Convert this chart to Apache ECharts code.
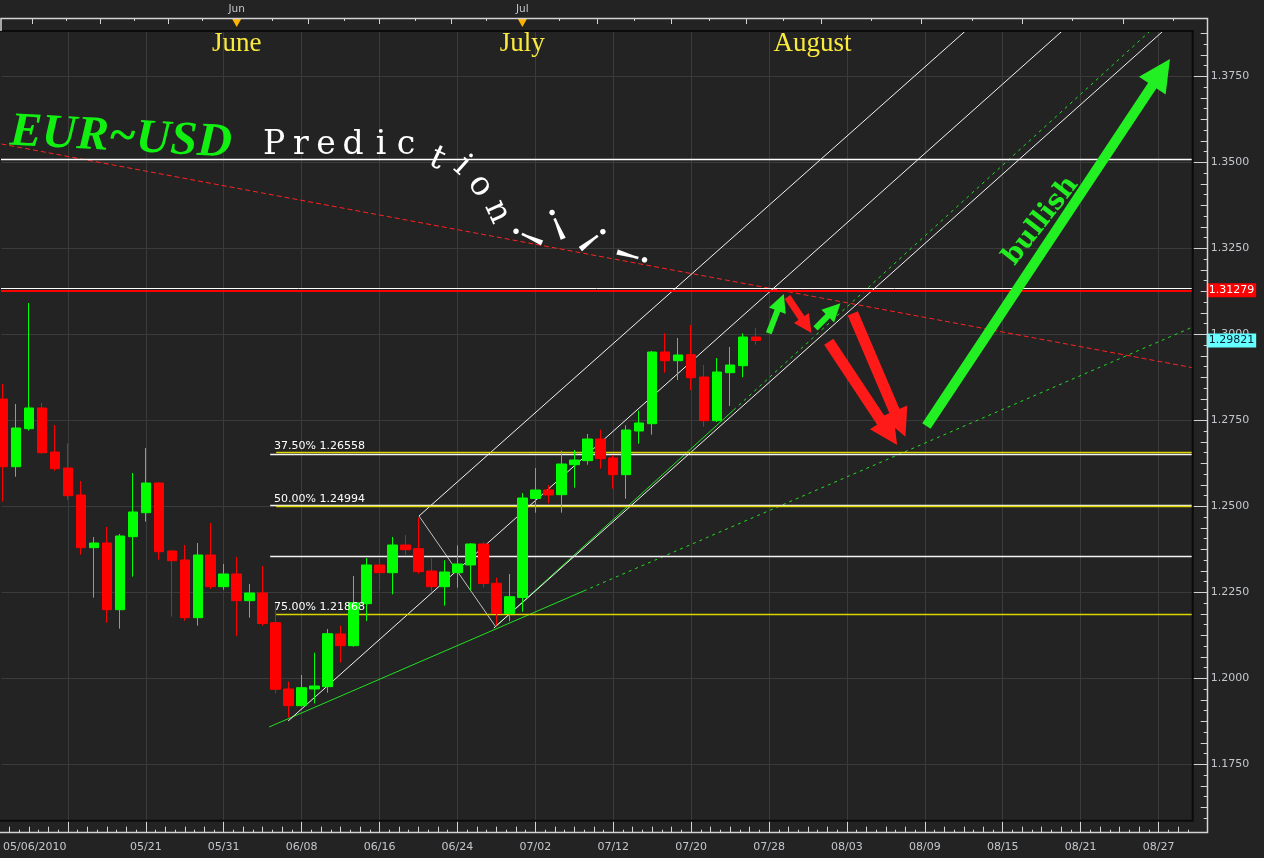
<!DOCTYPE html>
<html>
<head>
<meta charset="utf-8">
<script src="https://cdn.jsdelivr.net/npm/echarts@6.0.0/dist/echarts.min.js"></script>
<style>
html,body{margin:0;padding:0;background:#232323;}
#chart{width:1264px;height:858px;}
</style>
</head>
<body>
<div id="chart"></div>
<script>
// ---------------- data ----------------
const dates = ['05/06','05/07','05/10','05/11','05/12','05/13','05/14','05/17','05/18','05/19',
  '05/20','05/21','05/24','05/25','05/26','05/27','05/28','05/31','06/01','06/02',
  '06/03','06/04','06/07','06/08','06/09','06/10','06/11','06/14','06/15','06/16',
  '06/17','06/18','06/21','06/22','06/23','06/24','06/25','06/28','06/29','06/30',
  '07/01','07/02','07/05','07/06','07/07','07/08','07/09','07/12','07/13','07/14',
  '07/15','07/16','07/19','07/20','07/21','07/22','07/23','07/26','07/27'];
const opens = [1.28119,1.26151,1.27256,1.27858,1.26578,1.26113,1.25328,1.23797,1.23933,1.21994,
  1.24116,1.24814,1.25677,1.23701,1.23439,1.21762,1.23584,1.22663,1.23032,1.22256,
  1.22480,1.21616,1.19689,1.19204,1.19689,1.19756,1.21288,1.20948,1.22169,1.23294,
  1.23070,1.23875,1.23767,1.23119,1.22663,1.23070,1.23294,1.23904,1.22762,1.21884,
  1.22349,1.25227,1.25474,1.25337,1.26209,1.26326,1.26956,1.26404,1.25919,1.27189,
  1.27401,1.29485,1.29232,1.29407,1.28759,1.27488,1.28884,1.29087,1.29921];
const closes = [1.26151,1.27276,1.27858,1.26558,1.26093,1.25308,1.23797,1.23933,1.21994,1.24137,
  1.24834,1.25677,1.23680,1.23419,1.21762,1.23584,1.22663,1.23032,1.22256,1.22480,
  1.21593,1.19680,1.19204,1.19727,1.19776,1.21297,1.20948,1.22198,1.23294,1.23070,
  1.23875,1.23738,1.23099,1.22663,1.23090,1.23323,1.23904,1.22756,1.21884,1.22372,
  1.25241,1.25474,1.25328,1.26230,1.26346,1.26956,1.26384,1.25919,1.27218,1.27422,
  1.29485,1.29232,1.29398,1.28738,1.27488,1.28904,1.29107,1.29921,1.29821];
const lows = [1.25134,1.25860,1.27200,1.26529,1.26035,1.25192,1.23593,1.22343,1.21616,1.21442,
  1.22954,1.24552,1.23448,1.21791,1.21674,1.21529,1.22600,1.22576,1.21230,1.21762,
  1.21529,1.19564,1.18855,1.19180,1.19273,1.19581,1.20454,1.20920,1.21666,1.22547,
  1.22442,1.23564,1.23041,1.22517,1.22110,1.22634,1.22547,1.22640,1.21535,1.21660,
  1.21936,1.24814,1.25087,1.24814,1.25541,1.26209,1.26093,1.25512,1.25221,1.26820,
  1.27081,1.28884,1.28671,1.28381,1.27314,1.27450,1.27916,1.28750,1.29698];
const highs = [1.28555,1.27974,1.30910,1.28003,1.27363,1.26831,1.25735,1.24108,1.24398,1.24195,
  1.25968,1.26695,1.25700,1.23730,1.23875,1.23933,1.24515,1.23323,1.23526,1.22741,
  1.23265,1.22180,1.19901,1.20096,1.20744,1.21433,1.21529,1.22974,1.23497,1.23517,
  1.24108,1.24166,1.24669,1.23517,1.23430,1.23866,1.23933,1.23962,1.22924,1.23032,
  1.25387,1.26113,1.25619,1.26616,1.26637,1.27102,1.27227,1.26483,1.27355,1.27779,
  1.29515,1.30029,1.29892,1.30270,1.29107,1.29311,1.29631,1.30029,1.30183];

// axis ticks / labels (x in trading-slot units, slot 0 = 05/06/2010)
const xGridSlots = [5,11,17,23,29,35,41,47,53,59,65,71,77,83,89];
const xLabelSlots = [0,11,17,23,29,35,41,47,53,59,65,71,77,83,89];
const xTickLabels = ['05/06/2010','05/21','05/31','06/08','06/16','06/24','07/02','07/12','07/20','07/28','08/03','08/09','08/15','08/21','08/27'];
const yTickValues = [1.175,1.2,1.225,1.25,1.275,1.3,1.325,1.35,1.375];
const yTickLabels = ['1.1750','1.2000','1.2250','1.2500','1.2750','1.3000','1.3250','1.3500','1.3750'];
const monthStartSlots = [-3,18,40,63,94];
const topMonthSlots = [18,40];
const topMonthLabels = ['Jun','Jul'];
const monthNameSlots = [18,40,62.35];
const monthNames = ['June','July','August'];

// drawn studies (slot, price)
const redTrend = [[-0.115,1.35532],[91.63,1.29029]];
const channelLines = [
  [[32.04,1.24718],[74.12,1.38817]],
  [[21.96,1.18759],[81.58,1.38817]],
  [[37.81,1.21462],[89.35,1.38817]]
];
const handleLine = [[32.04,1.24718],[37.96,1.21491]];
const greenSolid = [
  [[20.5,1.18584],[44.73,1.22538]],
  [[37.81,1.21462],[56.27,1.27799]]
];
const greenDashed = [
  [[44.73,1.22538],[91.63,1.30212]],
  [[56.27,1.27799],[88.35,1.38817]]
];
const fibLevels = [1.26558,1.24994,1.21868];
const fibLabels = ['37.50% 1.26558','50.00% 1.24994','75.00% 1.21868'];
const fibStart = 21.04;
const whiteLevels = [1.26512,1.25029,1.23547];
const whiteStart = 20.58;
const fibLabelSlot = 20.88;
const topWhiteLevel = 1.35087;
const resistance = 1.31279;
const resistanceEdge = 1.31325;
const lastClose = 1.29821;
const greenArrows = [
  [[58.98,1.30029],[59.89,1.30927]],
  [[62.58,1.30174],[64.01,1.30715]]
];
const redArrowsSmall = [[[60.42,1.31084],[61.88,1.30256]]];
const redArrowsBig = [
  [[63.60,1.29785],[68.27,1.27122]],
  [[65.45,1.30610],[69.08,1.27398]]
];
const bullArrow = [[71.12,1.27334],[89.20,1.37616]];

// ---------------- layout ----------------
const X_MIN = -0.11538, X_MAX = 91.63;
const Y_MIN = 1.1586, Y_MAX = 1.38817;
const GRID = {left:0, top:31, width:1192.7, height:789.7};
const AXIS_TXT = '#c3c7cc';

function seq(start, end, step){const a=[];for(let k=0;start+k*step<=end+1e-9;k++)a.push(+(start+k*step).toFixed(6));return a;}
function isMult(v, base, step){const r=(v-base)/step;return Math.abs(r-Math.round(r))<1e-6;}

const xTallMinor = seq(0.5, X_MAX, 1.5).filter(v=>!isMult(v,5,6));
const xShortMinor = seq(1.25, X_MAX, 1.5);
const yLongMinor = seq(1.15625, Y_MAX, 0.00625).filter(v=>!isMult(v,1.15,0.025));
const yShortMinor = seq(1.159375, Y_MAX, 0.00625);
const topLong = [], topShort = [];
for (let m=0;m<monthStartSlots.length-1;m++){
  const s=monthStartSlots[m], e=monthStartSlots[m+1], st=(e-s)/8;
  for (let j=0;j<8;j++){ (j%2===0?topLong:topShort).push(+(s+j*st).toFixed(4)); }
}

const candleData = dates.map((d,i)=>[i, opens[i], closes[i], lows[i], highs[i]]);

function baseX(extra){
  return Object.assign({type:'value', gridIndex:0, min:X_MIN, max:X_MAX,
    axisLine:{show:false,onZero:false}, splitLine:{show:false}, axisLabel:{show:false}}, extra);
}
function baseY(extra){
  return Object.assign({type:'value', gridIndex:0, min:Y_MIN, max:Y_MAX, position:'right', offset:15,
    axisLine:{show:false,onZero:false}, splitLine:{show:false}, axisLabel:{show:false}}, extra);
}
function seg(c, style){return {coords:c, lineStyle:Object.assign({opacity:1}, style)};}
function hseg(x1, p, style){return seg([[x1,p],[X_MAX,p]], style);}

const chart = echarts.init(document.getElementById('chart'), null, {renderer:'canvas'});

const serifW = '"DejaVu Serif", serif';
const predChars = [
  ['P',274,145.5,0,33],['r',301,145.5,0,33],['e',326,145.5,0,33],['d',353,145.5,0,33],['i',381,145.5,0,33],['c',406,145.5,0,33],
  ['t',437,159,25,33],['i',462,166,42,33],['o',480,186,55,33],['n',497,212,65,33],
  ['!',524,235,114,42],['!',555.5,220.5,157,42],['!',596,237,232,42],['!',636,257.5,-74,42]
];
const graphics = [
  {type:'polyline', silent:true, z:50, shape:{points:[[0,31],[1192.7,31],[1192.7,820.7],[0,820.7]]},
   style:{stroke:'#0b0b0b', lineWidth:2, fill:null}},
  {type:'polyline', silent:true, z:50, shape:{points:[[1,31],[1,18.5],[1207.5,18.5],[1207.5,832.5],[0,832.5]]},
   style:{stroke:'#d4d4d4', lineWidth:1.5, fill:null}},
  {type:'text', silent:true, z:60, x:10, y:132, rotation:-0.055,
   style:{text:'EUR~USD', font:'italic bold 48px "Liberation Serif", serif', fill:'#12f012', textAlign:'left', textVerticalAlign:'middle', align:'left', verticalAlign:'middle'}},
  {type:'text', silent:true, z:60, x:1041, y:221, rotation:52*Math.PI/180,
   style:{text:'bullish', font:'bold 27px '+serifW, fill:'#22ee22', textAlign:'center', textVerticalAlign:'middle', align:'center', verticalAlign:'middle'}}
];
predChars.forEach(c=>{
  graphics.push({type:'text', silent:true, z:60, x:c[1], y:c[2], rotation:-c[3]*Math.PI/180,
    style:{text:c[0], font:c[4]+'px '+serifW, fill:'#ffffff', textAlign:'center', textVerticalAlign:'middle', align:'center', verticalAlign:'middle'}});
});

const tagLabel = (val, bg, fg)=>({show:true, position:'right', distance:14, formatter:val.toFixed(5), color:fg,
  backgroundColor:bg, padding:[2,2,1,2], fontSize:11, fontFamily:'"DejaVu Sans", sans-serif'});

const option = {
  backgroundColor:'#232323',
  animation:false,
  textStyle:{fontFamily:'"DejaVu Sans", sans-serif'},
  grid:GRID,
  xAxis:[
    baseX({position:'bottom', offset:12,
      axisTick:{show:true, inside:true, length:12, customValues:xGridSlots, lineStyle:{color:'#d4d4d4', width:1}},
      splitLine:{show:true, lineStyle:{color:'#3b3b3b', width:1}},
      axisLabel:{show:true, customValues:xLabelSlots, margin:9, color:AXIS_TXT, fontSize:11, fontFamily:'"DejaVu Sans", sans-serif',
        alignMinLabel:'left',
        formatter:v=>{const k=xLabelSlots.findIndex(s=>Math.abs(s-v)<1e-3);return k>=0?xTickLabels[k]:'';}}}),
    baseX({position:'bottom', offset:12, axisTick:{show:true, inside:true, length:6, customValues:xTallMinor, lineStyle:{color:'#d4d4d4'}}}),
    baseX({position:'top', offset:13,
      axisTick:{show:true, inside:true, length:6, customValues:topLong, lineStyle:{color:'#d4d4d4'}},
      axisLabel:{show:true, customValues:topMonthSlots, margin:3, color:AXIS_TXT, fontSize:10.5,
        formatter:v=>{const k=topMonthSlots.findIndex(s=>Math.abs(s-v)<1e-3);return k>=0?topMonthLabels[k]:'';}}}),
    baseX({position:'top', offset:13, axisTick:{show:true, inside:true, length:3, customValues:topShort, lineStyle:{color:'#d4d4d4'}}}),
    baseX({position:'bottom', offset:12, axisTick:{show:true, inside:true, length:3, customValues:xShortMinor, lineStyle:{color:'#d4d4d4'}}})
  ],
  yAxis:[
    baseY({
      axisTick:{show:true, inside:true, length:15, customValues:yTickValues, lineStyle:{color:'#d4d4d4'}},
      splitLine:{show:true, lineStyle:{color:'#3b3b3b', width:1}},
      axisLabel:{show:true, customValues:yTickValues, margin:3, color:AXIS_TXT, fontSize:11,
        formatter:v=>{const k=yTickValues.findIndex(s=>Math.abs(s-v)<1e-6);return k>=0?yTickLabels[k]:'';}}}),
    baseY({axisTick:{show:true, inside:true, length:7, customValues:yLongMinor, lineStyle:{color:'#d4d4d4'}}}),
    baseY({axisTick:{show:true, inside:true, length:4, customValues:yShortMinor, lineStyle:{color:'#d4d4d4'}}})
  ],
  graphic:{elements:graphics},
  series:[
    {
      type:'lines', coordinateSystem:'cartesian2d', xAxisIndex:0, yAxisIndex:0, silent:true, z:2,
      lineStyle:{opacity:1},
      data:[
        seg(redTrend, {color:'#ff2222', width:1, type:[5,3]}),
        ...greenDashed.map(c=>seg(c,{color:'#22dd22', width:1, type:[3,4]})),
        ...greenSolid.map(c=>seg(c,{color:'#22e022', width:1, type:'solid'})),
        ...channelLines.map(c=>seg(c,{color:'#f4f4f4', width:1, type:'solid'})),
        seg(handleLine,{color:'#c0c0c0', width:1, type:'solid'}),
        hseg(-0.2, topWhiteLevel, {color:'#ffffff', width:1.3, type:'solid'}),
        hseg(-0.2, resistanceEdge, {color:'#ffffff', width:1, type:'solid'}),
        hseg(-0.2, resistance, {color:'#ff0000', width:2, type:'solid'}),
        ...whiteLevels.map(p=>hseg(whiteStart,p,{color:'#f4f4f4', width:1.3, type:'solid'})),
        ...fibLevels.map(p=>hseg(fibStart,p,{color:'#dcd600', width:1.3, type:'solid'}))
      ]
    },
    {
      type:'candlestick', xAxisIndex:0, yAxisIndex:0, z:3,
      barWidth:10,
      data:candleData,
      itemStyle:{color:'#00ff00', color0:'#ff0000', borderColor:'#00ff00', borderColor0:'#ff0000', borderWidth:1}
    },
    {
      type:'lines', coordinateSystem:'cartesian2d', xAxisIndex:0, yAxisIndex:0, silent:true, z:6,
      symbol:['none','triangle'],
      lineStyle:{opacity:1},
      data:[
        ...greenArrows.map(c=>({coords:c, symbolSize:18, lineStyle:{color:'#22f022', width:6, opacity:1}})),
        ...redArrowsSmall.map(c=>({coords:c, symbolSize:18, lineStyle:{color:'#ff1a1a', width:7, opacity:1}})),
        ...redArrowsBig.map(c=>({coords:c, symbolSize:28, lineStyle:{color:'#ff1a1a', width:11, opacity:1}})),
        {coords:bullArrow, symbolSize:32, lineStyle:{color:'#22f022', width:10, opacity:1}}
      ]
    },
    {
      type:'scatter', xAxisIndex:0, yAxisIndex:0, symbolSize:0, silent:true, z:7, clip:false,
      itemStyle:{opacity:1},
      data:[{value:[X_MAX,resistance], label:tagLabel(resistance,'#ff0000','#ffffff')},
            {value:[X_MAX,lastClose], label:tagLabel(lastClose,'#66ffff','#002030')}],
      label:{show:true, position:'right', distance:14}
    },
    {
      type:'scatter', xAxisIndex:0, yAxisIndex:0, symbolSize:0, silent:true, z:7, clip:false,
      itemStyle:{opacity:1},
      data:fibLevels.map((p,i)=>({value:[fibLabelSlot,p], label:{formatter:fibLabels[i]}})),
      label:{show:true, position:'right', distance:0, offset:[0,-7], color:'#ffffff', fontSize:11, fontFamily:'"DejaVu Sans", sans-serif'}
    },
    {
      type:'scatter', xAxisIndex:0, yAxisIndex:0, symbolSize:0, silent:true, z:7, clip:false,
      itemStyle:{opacity:1},
      data:monthNames.map((n,i)=>({value:[monthNameSlots[i],1.38439], label:{formatter:n}})),
      label:{show:true, position:'inside', color:'#fbea3e', fontSize:27, fontFamily:'"Liberation Serif", serif', opacity:1}
    },
    {
      type:'scatter', xAxisIndex:0, yAxisIndex:0, silent:true, z:7, clip:false,
      symbol:'triangle', symbolRotate:180, symbolSize:[9,8],
      itemStyle:{color:'#ffb400', opacity:1},
      data:topMonthSlots.map(s=>[s,1.39049])
    }
  ]
};
chart.setOption(option);
</script>
</body>
</html>
